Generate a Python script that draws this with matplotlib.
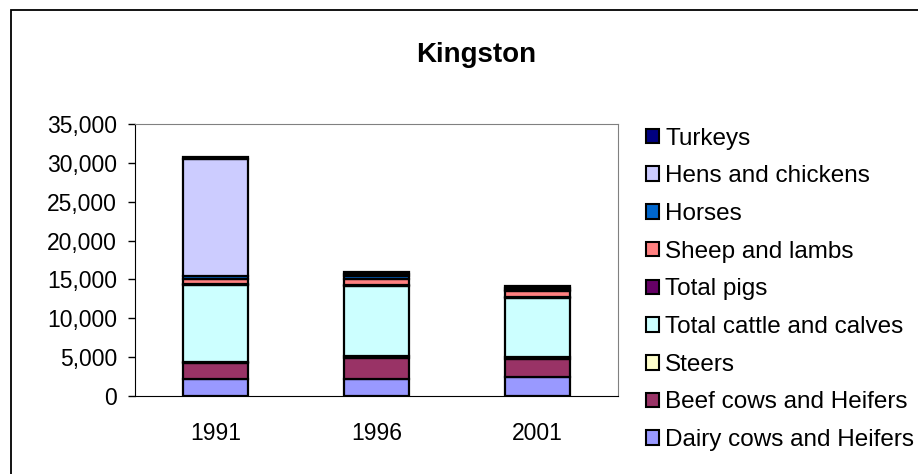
import numpy as np
import matplotlib.pyplot as plt
from matplotlib.patches import Rectangle, Patch
from matplotlib.ticker import FuncFormatter

# --- Daten ---
years = ["1991", "1996", "2001"]
series_names = ["Dairy cows and Heifers", "Beef cows and Heifers", "Steers",
                "Total cattle and calves", "Total pigs", "Sheep and lambs",
                "Horses", "Hens and chickens", "Turkeys"]
dairy = [2200, 2200, 2500]
beef = [2100, 2700, 2300]
steers = [100, 300, 200]
cattle = [9900, 9000, 7600]
pigs = [100, 100, 100]
sheep = [700, 800, 800]
horses = [400, 300, 100]
hens = [15000, 300, 300]
turkeys = [200, 200, 200]

farben = ["#9999FF", "#993366", "#FFFFCC", "#CCFFFF", "#660066",
          "#FF8080", "#0066CC", "#CCCCFF", "#000080"]

plt.rcParams['font.family'] = ['Liberation Sans', 'DejaVu Sans']

fig = plt.figure(figsize=(9.18, 4.74), dpi=100)
W, H = 918, 474
ax = fig.add_axes([135 / W, 1 - 396 / H, (618 - 135) / W, (396 - 124) / H])

x = np.arange(len(years))
bottom = np.zeros(len(years))
werte = [dairy, beef, steers, cattle, pigs, sheep, horses, hens, turkeys]
for name, vals, c in zip(series_names, werte, farben):
    ax.bar(x, vals, bottom=bottom, width=0.4, color=c, edgecolor="black",
           linewidth=1.6, label=name)
    bottom += np.array(vals)

ax.set_xlim(-0.5, 2.5)
ax.set_ylim(0, 35000)
ax.set_yticks(np.arange(0, 35001, 5000))
ax.yaxis.set_major_formatter(FuncFormatter(lambda v, p: f"{int(v):,}"))
ax.set_xticks(x)
ax.set_xticklabels(years)
ax.tick_params(axis="y", length=5, width=1, pad=8, labelsize=16.5)
ax.tick_params(axis="x", length=0, pad=19, labelsize=16.5)
for s in ["top", "right"]:
    ax.spines[s].set_color("#808080")
for s in ["left", "bottom"]:
    ax.spines[s].set_color("black")

fig.text(476 / W, 1 - 55 / H, "Kingston", ha="center", va="center",
         fontsize=20, fontweight="bold")

# Legende, umgekehrte Reihenfolge
handles = [Patch(facecolor=c, edgecolor="black", linewidth=1.5) for c in farben][::-1]
fig.legend(handles, series_names[::-1], loc="upper left",
           bbox_to_anchor=(636 / W, 1 - 118 / H), frameon=False,
           fontsize=17.5, handlelength=0.55, handleheight=0.55,
           handletextpad=0.25, labelspacing=0.645, borderaxespad=0)

# Rahmen um das Diagramm
fig.patches.append(Rectangle((11 / W, -0.5), 2, 1.5 - 10 / H, transform=fig.transFigure,
                             fill=False, edgecolor="black", linewidth=1.3))

fig.savefig("out.png", dpi=100)
